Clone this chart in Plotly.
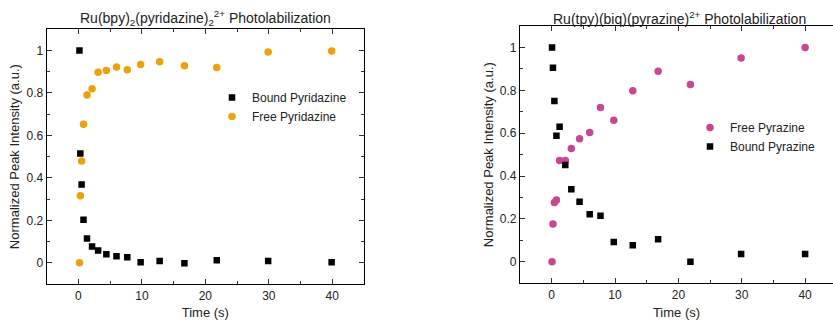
import plotly.graph_objects as go

# Left panel: Ru(bpy)2(pyridazine)2 2+
t_left = [0.16, 0.3, 0.5, 0.8, 1.35, 2.15, 3.1, 4.4, 6.0, 7.7, 9.8, 12.8, 16.7, 21.8, 29.9, 39.9]
bound_pyridazine = [1.0, 0.515, 0.369, 0.203, 0.114, 0.077, 0.058, 0.040, 0.031, 0.026, 0.003, 0.008, -0.002, 0.012, 0.008, 0.003]
free_pyridazine = [0.0, 0.316, 0.48, 0.653, 0.79, 0.82, 0.898, 0.906, 0.922, 0.909, 0.934, 0.947, 0.928, 0.92, 0.993, 0.998]

# Right panel: Ru(tpy)(biq)(pyrazine) 2+
t_right = [0.06, 0.2, 0.43, 0.75, 1.25, 2.15, 3.1, 4.4, 6.0, 7.7, 9.8, 12.8, 16.8, 21.9, 29.9, 40.0]
free_pyrazine = [0.0, 0.176, 0.277, 0.288, 0.473, 0.473, 0.529, 0.574, 0.603, 0.72, 0.661, 0.798, 0.889, 0.827, 0.951, 1.0]
bound_pyrazine = [1.0, 0.905, 0.75, 0.588, 0.63, 0.452, 0.339, 0.28, 0.222, 0.215, 0.093, 0.078, 0.106, 0.0, 0.037, 0.037]

ORANGE = "#EDA10E"
PINK = "#C94792"
FONT = "Liberation Sans, Arial, sans-serif"
W, H = 833, 320

fig = go.Figure()
fig.add_trace(go.Scatter(x=t_left, y=bound_pyridazine, mode="markers", name="Bound Pyridazine",
                         marker=dict(symbol="square", size=6.5, color="black"),
                         xaxis="x", yaxis="y", legend="legend"))
fig.add_trace(go.Scatter(x=t_left, y=free_pyridazine, mode="markers", name="Free Pyridazine",
                         marker=dict(symbol="circle", size=7.5, color=ORANGE),
                         xaxis="x", yaxis="y", legend="legend"))
fig.add_trace(go.Scatter(x=t_right, y=free_pyrazine, mode="markers", name="Free Pyrazine",
                         marker=dict(symbol="circle", size=7.5, color=PINK),
                         xaxis="x2", yaxis="y2", legend="legend2"))
fig.add_trace(go.Scatter(x=t_right, y=bound_pyrazine, mode="markers", name="Bound Pyrazine",
                         marker=dict(symbol="square", size=6.5, color="black"),
                         xaxis="x2", yaxis="y2", legend="legend2"))

def px_x(p):
    return p / W

def px_y(p):
    return (H - p) / H

common_ax = dict(showline=True, linecolor="black", linewidth=1.3, ticks="inside", ticklen=5,
                 tickcolor="#333", showgrid=False, zeroline=False,
                 tickfont=dict(family=FONT, size=12, color="#222"),
                 title_font=dict(family=FONT, size=13, color="#222"))

fig.update_layout(
    width=W, height=H, margin=dict(l=0, r=0, t=0, b=0),
    paper_bgcolor="white", plot_bgcolor="white",
    font=dict(family=FONT, size=12, color="#222"),
    xaxis=dict(domain=[px_x(46.7), px_x(364)], range=[-5, 45], anchor="y", mirror="ticks",
               dtick=10, tick0=0, minor=dict(ticks="inside", ticklen=3, dtick=5, tickcolor="#333"),
               title=dict(text="Time (s)", standoff=8), **common_ax),
    yaxis=dict(domain=[px_y(284), px_y(29.3)], range=[-0.1, 1.1], anchor="x", mirror="ticks",
               dtick=0.2, tick0=0, minor=dict(ticks="inside", ticklen=3, dtick=0.1, tickcolor="#333"),
               title=dict(text="Normalized Peak Intensity (a.u.)", standoff=3), **common_ax),
    xaxis2=dict(domain=[px_x(520), px_x(833)], range=[-5, 44.4], anchor="y2", mirror="ticks",
                dtick=10, tick0=0, minor=dict(ticks="inside", ticklen=3, dtick=5, tickcolor="#333"),
                title=dict(text="Time (s)", standoff=8), **common_ax),
    yaxis2=dict(domain=[px_y(283.3), px_y(26)], range=[-0.1, 1.1], anchor="x2", mirror=False,
                dtick=0.2, tick0=0, minor=dict(ticks="inside", ticklen=3, dtick=0.1, tickcolor="#333"),
                title=dict(text="Normalized Peak Intensity (a.u.)", standoff=3), **common_ax),
    legend=dict(x=px_x(212), y=px_y(83), xanchor="left", yanchor="top",
                bgcolor="rgba(0,0,0,0)", font=dict(family=FONT, size=12, color="#222"),
                tracegroupgap=0),
    legend2=dict(x=px_x(690), y=px_y(113), xanchor="left", yanchor="top",
                 bgcolor="rgba(0,0,0,0)", font=dict(family=FONT, size=12, color="#222"),
                 tracegroupgap=0),
    showlegend=True,
    annotations=[
        dict(text="Ru(bpy)<sub>2</sub>(pyridazine)<sub>2</sub><sup>2+</sup> Photolabilization",
             x=px_x(205.5), y=px_y(18), xref="paper", yref="paper", showarrow=False,
             xanchor="center", yanchor="middle", font=dict(family=FONT, size=14, color="#222")),
        dict(text="Ru(tpy)(biq)(pyrazine)<sup>2+</sup> Photolabilization",
             x=px_x(679.5), y=px_y(18), xref="paper", yref="paper", showarrow=False,
             xanchor="center", yanchor="middle", font=dict(family=FONT, size=14, color="#222")),
    ],
)

fig.write_html("out.html", config={"displayModeBar": False},
               post_script="document.body.style.margin='0';document.body.style.overflow='hidden';")
